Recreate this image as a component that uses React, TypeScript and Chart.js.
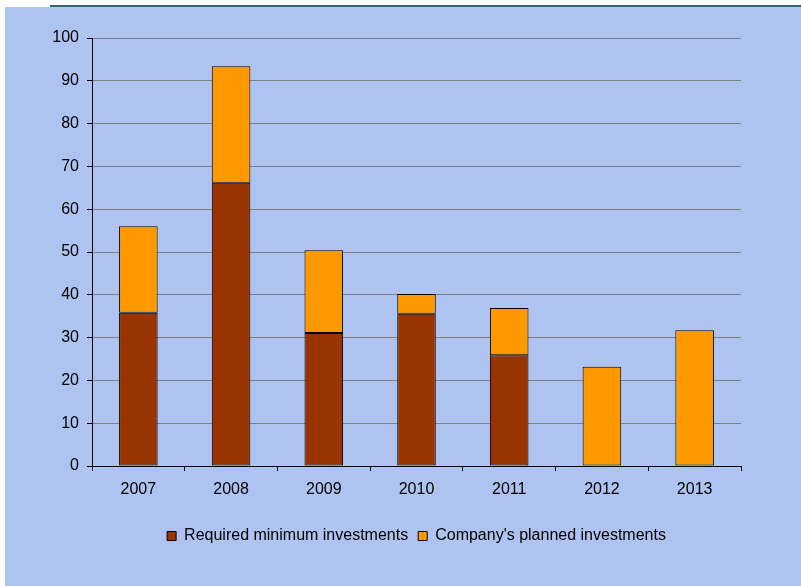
import React, { useEffect, useRef } from "react";
import { Chart, registerables } from "chart.js";

Chart.register(...registerables);

const categories = ["2007", "2008", "2009", "2010", "2011", "2012", "2013"];
const requiredMinimum = [35.8, 66.2, 31.1, 35.6, 25.9, null, null];
const plannedExtra = [20.2, 27.2, 19.3, 4.6, 11.0, 23.2, 31.7];
const seriesNames = ["Required minimum investments", "Company's planned investments"];
const seriesColors = ["#993300", "#FF9900"];

const FONT = "'Liberation Sans', Arial, Helvetica, sans-serif";
const FONT_SIZE = 16;

const backgroundPlugin = {
  id: "bgPlugin",
  beforeDraw(chart: any) {
    const { ctx, width, height } = chart;
    ctx.save();
    ctx.fillStyle = "#FFFFFF";
    ctx.fillRect(0, 0, width, height);
    ctx.fillStyle = "#AFC3F0";
    ctx.fillRect(5, 7, width - 5, height - 7);
    ctx.fillStyle = "#336666";
    ctx.fillRect(50, 5, width - 50, 2);
    ctx.restore();
  },
};

const legendCenterPlugin = {
  id: "legendCenter",
  afterLayout(chart: any) {
    const lg = chart.legend;
    if (lg) {
      lg.left = chart.chartArea.left;
      lg.right = chart.chartArea.right;
      lg.width = lg.right - lg.left;
    }
  },
};

export default function App() {
  const canvasRef = useRef<HTMLCanvasElement | null>(null);

  useEffect(() => {
    const canvas = canvasRef.current;
    if (!canvas) return;
    const chart = new Chart(canvas, {
      type: "bar",
      data: {
        labels: categories,
        datasets: [
          {
            label: seriesNames[0],
            data: requiredMinimum as any,
            backgroundColor: seriesColors[0],
            borderColor: "#000000",
            borderWidth: 1,
            borderSkipped: false,
            categoryPercentage: 1,
            barPercentage: 0.416,
          },
          {
            label: seriesNames[1],
            data: plannedExtra,
            backgroundColor: seriesColors[1],
            borderColor: "#000000",
            borderWidth: 1,
            borderSkipped: false,
            categoryPercentage: 1,
            barPercentage: 0.416,
          },
        ],
      },
      options: {
        responsive: false,
        animation: false,
        devicePixelRatio: 1,
        layout: { padding: { left: 0, right: 60, top: 38, bottom: 32 } },
        plugins: {
          title: { display: false },
          tooltip: { enabled: false },
          legend: {
            display: true,
            position: "bottom",
            align: "center",
            labels: {
              boxWidth: 9,
              boxHeight: 9,
              padding: 10,
              color: "#000000",
              font: { family: FONT, size: FONT_SIZE },
            },
          },
        },
        scales: {
          x: {
            stacked: true,
            afterFit: (scale: any) => {
              scale.height = 52;
            },
            grid: {
              display: true,
              drawOnChartArea: false,
              drawTicks: true,
              tickLength: 5,
              tickColor: "#000000",
              offset: true,
            },
            border: { display: true, color: "#000000", width: 1 },
            ticks: {
              color: "#000000",
              padding: 9,
              font: { family: FONT, size: FONT_SIZE },
              maxRotation: 0,
            },
          },
          y: {
            stacked: true,
            min: 0,
            max: 100,
            afterFit: (scale: any) => {
              scale.width = 92;
            },
            grid: {
              display: true,
              drawOnChartArea: true,
              drawTicks: true,
              tickLength: 5,
              color: "#808080",
              tickColor: "#000000",
              lineWidth: 1,
            },
            border: { display: true, color: "#000000", width: 1 },
            ticks: {
              stepSize: 10,
              color: "#000000",
              padding: 8,
              font: { family: FONT, size: FONT_SIZE },
            },
          },
        },
      },
      plugins: [backgroundPlugin, legendCenterPlugin],
    });
    return () => chart.destroy();
  }, []);

  return (
    <div style={{ position: "fixed", left: 0, top: 0, width: 801, height: 586 }}>
      <canvas ref={canvasRef} width={801} height={586} style={{ width: 801, height: 586, display: "block" }} />
    </div>
  );
}
